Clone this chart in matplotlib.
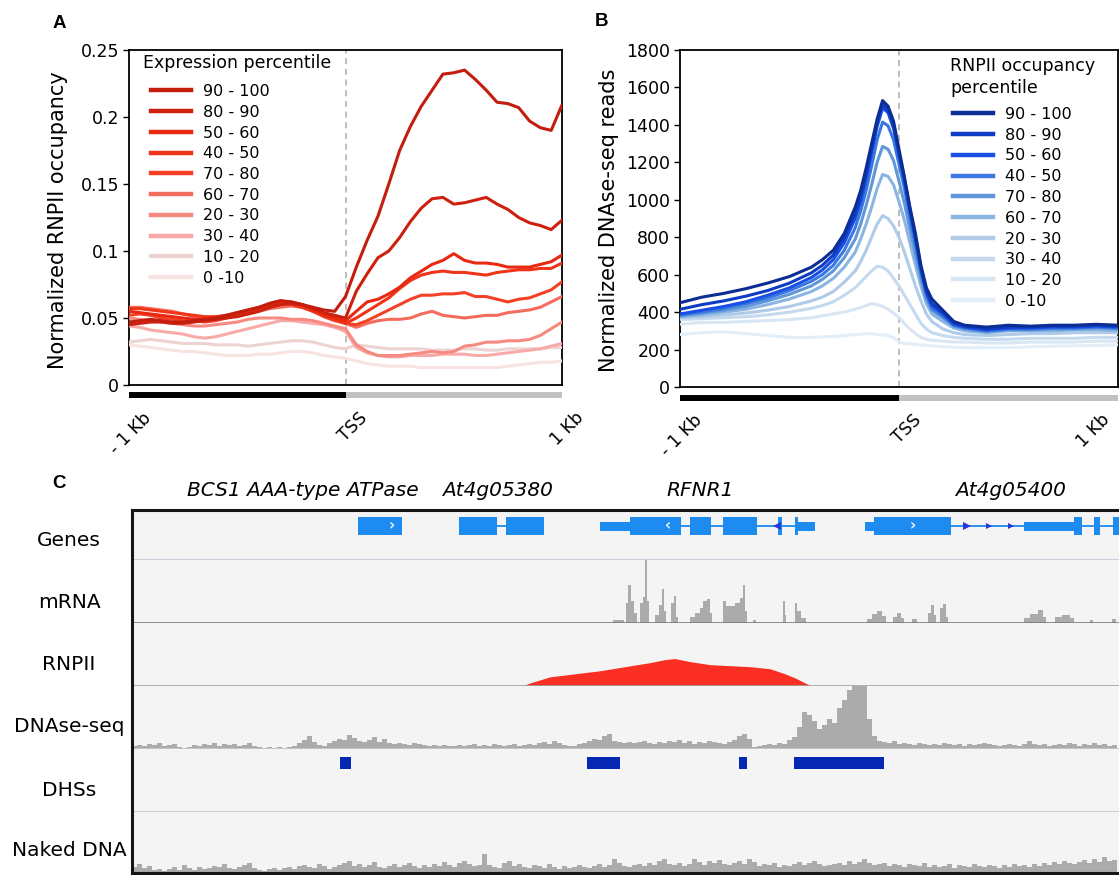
import numpy as np
import matplotlib
matplotlib.use("Agg")
import matplotlib.pyplot as plt
import matplotlib.transforms as mtransforms
from matplotlib.lines import Line2D

plt.rcParams['font.family'] = ['DejaVu Sans']

# ============================ DATA ============================
percentile_groups = ['90 - 100', '80 - 90', '50 - 60', '40 - 50', '70 - 80',
                     '60 - 70', '20 - 30', '30 - 40', '10 - 20', '0 -10']
profile_tick_pos = [-1000, 0, 1000]
profile_tick_labels = ['- 1 Kb', 'TSS', '1 Kb']

# ---- Panel A: RNPII occupancy profiles (position relative to TSS, bp) ----
pos_a = list(range(-1000, 1001, 50))
rnpii_90_100 = [0.047,0.048,0.049,0.048,0.047,0.047,0.048,0.049,0.050,0.052,0.054,0.056,0.058,0.061,0.063,0.062,0.060,0.058,0.056,0.055,0.066,
                0.088,0.108,0.126,0.150,0.175,0.193,0.208,0.220,0.232,0.233,0.235,0.228,0.220,0.211,0.210,0.207,0.197,0.192,0.190,0.209]
rnpii_80_90 = [0.045,0.046,0.047,0.047,0.046,0.046,0.047,0.048,0.049,0.050,0.051,0.053,0.055,0.058,0.060,0.061,0.060,0.057,0.054,0.052,0.050,
               0.070,0.083,0.095,0.100,0.110,0.122,0.132,0.139,0.140,0.135,0.136,0.138,0.140,0.135,0.131,0.125,0.121,0.119,0.116,0.123]
rnpii_50_60 = [0.055,0.054,0.053,0.052,0.051,0.050,0.049,0.049,0.050,0.051,0.053,0.055,0.057,0.059,0.061,0.062,0.060,0.056,0.052,0.050,0.048,
               0.055,0.062,0.064,0.068,0.073,0.080,0.085,0.090,0.093,0.098,0.093,0.091,0.091,0.090,0.088,0.088,0.088,0.090,0.092,0.097]
rnpii_40_50 = [0.057,0.057,0.056,0.055,0.054,0.053,0.052,0.051,0.051,0.052,0.054,0.056,0.058,0.060,0.061,0.060,0.058,0.055,0.052,0.049,0.046,
               0.050,0.055,0.060,0.065,0.072,0.078,0.082,0.084,0.085,0.084,0.084,0.083,0.082,0.084,0.085,0.086,0.086,0.087,0.087,0.091]
rnpii_70_80 = [0.052,0.053,0.052,0.050,0.049,0.048,0.048,0.047,0.048,0.050,0.052,0.054,0.056,0.058,0.060,0.061,0.058,0.055,0.051,0.048,0.046,
               0.045,0.048,0.052,0.056,0.060,0.064,0.067,0.067,0.068,0.068,0.069,0.066,0.066,0.064,0.062,0.064,0.065,0.068,0.071,0.077]
rnpii_60_70 = [0.058,0.058,0.057,0.056,0.055,0.053,0.051,0.050,0.050,0.051,0.052,0.053,0.055,0.057,0.058,0.059,0.058,0.056,0.053,0.050,0.046,
               0.043,0.046,0.048,0.049,0.049,0.050,0.053,0.055,0.052,0.051,0.050,0.051,0.052,0.052,0.054,0.055,0.056,0.058,0.062,0.066]
rnpii_20_30 = [0.050,0.049,0.048,0.047,0.046,0.045,0.044,0.044,0.045,0.046,0.047,0.049,0.050,0.050,0.050,0.049,0.049,0.048,0.046,0.044,0.042,
               0.030,0.025,0.022,0.022,0.022,0.023,0.024,0.025,0.024,0.025,0.029,0.030,0.032,0.032,0.033,0.033,0.034,0.037,0.042,0.047]
rnpii_30_40 = [0.044,0.043,0.041,0.040,0.039,0.038,0.036,0.035,0.036,0.038,0.040,0.042,0.044,0.046,0.048,0.048,0.047,0.046,0.045,0.043,0.040,
               0.028,0.024,0.022,0.021,0.021,0.022,0.022,0.022,0.023,0.023,0.023,0.022,0.022,0.023,0.024,0.025,0.026,0.027,0.029,0.031]
rnpii_10_20 = [0.032,0.033,0.034,0.033,0.032,0.031,0.031,0.031,0.030,0.030,0.030,0.029,0.030,0.031,0.032,0.033,0.033,0.032,0.030,0.028,0.027,
               0.030,0.029,0.028,0.027,0.027,0.027,0.027,0.026,0.026,0.026,0.027,0.027,0.026,0.026,0.027,0.027,0.027,0.027,0.028,0.028]
rnpii_0_10 = [0.030,0.029,0.028,0.027,0.026,0.025,0.025,0.024,0.023,0.022,0.022,0.022,0.023,0.023,0.024,0.025,0.025,0.024,0.022,0.021,0.020,
              0.018,0.016,0.015,0.014,0.014,0.014,0.013,0.013,0.013,0.013,0.013,0.013,0.013,0.013,0.014,0.015,0.016,0.017,0.017,0.018]

# ---- Panel B: DNase-seq profiles ----
pos_b = [-1000,-900,-800,-700,-600,-500,-400,-350,-300,-250,-200,-175,-150,-125,-100,-75,-50,-25,
         0,25,50,75,100,125,150,200,250,300,400,500,600,700,800,900,1000]
dnase_90_100 = [450,480,500,525,555,590,640,680,730,820,960,1050,1170,1300,1430,1530,1500,1420,1270,1120,960,820,650,530,470,410,350,330,320,330,325,330,330,335,330]
dnase_80_90 = [415,440,460,485,515,555,610,650,705,795,925,1015,1135,1270,1410,1510,1480,1400,1250,1110,950,800,640,515,445,400,345,325,310,320,320,325,325,330,325]
dnase_50_60 = [390,410,430,455,490,530,585,625,680,770,900,990,1110,1250,1390,1490,1465,1380,1240,1100,940,790,630,505,435,390,335,320,305,315,315,320,320,325,320]
dnase_40_50 = [385,400,420,445,475,515,565,600,650,730,850,940,1050,1180,1320,1415,1395,1320,1190,1060,900,760,610,490,420,380,330,315,300,310,310,315,315,320,315]
dnase_70_80 = [380,395,410,430,460,495,540,575,620,690,790,870,970,1080,1200,1285,1270,1210,1100,980,840,710,580,470,410,370,325,310,295,305,305,310,310,315,310]
dnase_60_70 = [375,385,400,415,440,470,510,540,580,640,720,790,870,960,1060,1135,1125,1080,990,890,770,650,540,445,390,350,315,300,290,300,300,300,305,305,300]
dnase_20_30 = [370,375,385,395,410,430,460,480,510,560,620,670,730,800,870,915,900,860,800,720,630,540,460,390,350,310,290,280,275,280,285,285,290,290,290]
dnase_30_40 = [360,365,370,375,385,400,420,435,455,490,530,560,590,620,645,640,620,580,540,490,440,390,340,310,290,275,265,260,255,255,260,260,260,265,265]
dnase_10_20 = [335,345,345,350,355,360,370,380,390,400,415,425,435,445,440,430,415,395,370,340,310,285,265,255,250,245,240,240,235,235,240,240,240,245,245]
dnase_0_10 = [280,290,295,285,275,265,265,268,270,275,280,282,285,285,280,278,275,265,240,232,230,228,225,222,220,215,212,210,210,210,215,218,220,222,225]

# ---- Panel C: genome browser (positions in bp from window start) ----
track_names = ['Genes', 'mRNA', 'RNPII', 'DNAse-seq', 'DHSs', 'Naked DNA']
gene_names = ['BCS1 AAA-type ATPase', 'At4g05380', 'RFNR1', 'At4g05400']
gene_label_pos = [1710, 3660, 5680, 8790]
exon_start = [2260, 3270, 3740, 4680, 4980, 5580, 5910, 6460, 6630, 6660, 7330, 7420, 8920, 9420, 9620, 9810]
exon_end   = [2700, 3650, 4120, 4980, 5490, 5790, 6250, 6500, 6660, 6830, 7420, 8190, 9420, 9500, 9680, 9950]
exon_is_utr = [0, 0, 0, 1, 0, 0, 0, 0, 0, 1, 1, 0, 1, 0, 0, 0]
intron_start = [3650, 4680, 7330]
intron_end = [3740, 6830, 9950]
chevron_pos = [2600, 5360, 7810]
chevron_text = ['›', '‹', '›']
strand_arrow_pos = [6450, 8350, 8570, 8790]
strand_arrow_marker = ['<', '>', '>', '>']
strand_arrow_size = [6, 6, 4, 4]

mrna_start = [4810,4940,4960,4990,5020,5080,5110,5130,5150,5230,5270,5300,5320,5390,5420,5440,5580,5630,5680,5710,
              5750,5780,5910,5940,6030,6080,6110,6130,6210,6510,6530,6630,6650,6690,7350,7400,7450,7500,7610,7650,
              7690,7800,7960,7990,8020,8080,8110,8140,8920,8980,9060,9110,9230,9300,9380,9580,9800]
mrna_end = [4920,4960,4990,5020,5050,5110,5130,5150,5170,5270,5300,5320,5340,5420,5440,5460,5630,5680,5710,5750,
            5780,5800,5940,6030,6080,6110,6130,6150,6240,6530,6540,6650,6690,6740,7400,7450,7500,7540,7650,7690,
            7720,7850,7990,8020,8040,8110,8140,8160,8980,9060,9110,9140,9300,9380,9420,9610,9840]
mrna_cov = [3,20,37,22,10,20,26,62,22,8,18,33,12,20,27,6,6,10,15,22,
            24,10,22,17,20,25,37,12,3,22,8,20,12,5,4,9,12,7,6,10,
            5,4,10,18,8,15,19,6,5,9,13,6,6,8,5,3,4]

rnpii_track_pos = [3900,3980,4080,4180,4430,4680,4930,5180,5330,5430,5580,5780,5980,6180,6380,6530,6630,6730,6800]
rnpii_track_cov = [0,3,6,9,12,15,19,23,26,27,24,21,20,19,17,12,8,3,0]

bin_bp = 50
dnase_track_cov = [3,4,3,5,4,6,3,4,5,2, 1,2,4,3,5,4,6,3,5,4, 5,3,4,6,3,2,1,2,1,2,
                   1,2,3,6,9,13,7,4,3,6, 8,10,9,14,11,8,7,9,12,7, 10,6,5,6,5,4,6,5,4,3,
                   4,3,4,3,3,4,3,4,5,3, 4,3,5,4,3,4,5,3,4,5, 4,6,7,5,8,6,4,3,3,5,
                   6,8,10,9,13,15,8,7,6,7, 6,7,8,6,5,7,6,8,7,9, 6,8,5,7,6,8,7,6,5,7,
                   9,13,15,10,2,3,4,5,4,6, 5,9,12,22,36,33,28,20,24,30, 26,40,48,58,62,62,62,30,13,8,
                   7,6,8,5,6,5,4,6,5,4, 5,4,6,5,4,5,3,5,4,5, 6,5,4,3,4,5,4,3,5,8,
                   5,4,5,3,4,5,4,6,5,3, 5,4,6,4,5,3,4]
naked_track_cov = [6,9,5,7,3,4,2,4,6,3, 8,5,3,6,4,5,7,6,9,5, 4,6,8,10,5,3,2,4,5,3,
                   5,6,4,7,8,6,5,9,7,4, 6,8,10,12,7,9,6,8,11,6, 5,7,9,6,8,10,7,5,8,6,
                   9,7,11,8,6,10,12,9,7,8, 19,8,6,5,10,12,7,9,6,5, 8,7,5,9,6,4,7,5,6,8,
                   6,5,7,9,6,8,14,10,7,6, 8,9,7,10,8,12,14,9,8,10, 7,9,14,11,8,12,10,13,9,8,
                   10,12,9,14,11,7,9,8,10,6, 8,7,9,11,8,10,12,9,7,8, 9,10,8,12,9,11,14,10,8,9,
                   10,7,9,8,6,9,8,7,10,6, 8,6,7,9,5,8,7,6,9,7, 6,8,7,5,8,6,9,7,8,6,
                   9,7,10,8,11,9,12,10,9,11, 13,10,14,11,16,12,13]
dhs_start = [2080, 4550, 6070, 6620]
dhs_end = [2190, 4880, 6150, 7520]

# ============================ STYLE / LAYOUT ============================
W, H, DPI = 1119, 875, 100
reds = ['#c21d0d', '#cd200e', '#e92812', '#f03418', '#f44126', '#f46c5e',
        '#f78a80', '#f7aaa8', '#eed3d3', '#f8e3e3']
blues = ['#0b2d94', '#0f3cc4', '#1a4fe6', '#3a78e0', '#5f98d8', '#8ab5e2',
         '#afcbe8', '#c5daef', '#d8e6f4', '#e2eef8']

fig = plt.figure(figsize=(W / DPI, H / DPI), dpi=DPI)


def box(l, t, r, b):
    return [l / W, 1 - b / H, (r - l) / W, (b - t) / H]


def profile_panel(ax, x, series, colors, ylim, yticks, yticklabels,
                  legend_title, title_xy, legend_xy, axes_px_h, label_dx):
    n = len(series)
    for i in range(n - 1, -1, -1):
        ax.plot(x, series[i], color=colors[i], lw=2.2, zorder=3 + (n - i) * 0.1,
                solid_joinstyle='round')
    ax.axvline(0, color='#ababab', lw=1.1, ls=(0, (4, 3)), zorder=1)
    ax.set_xlim(-1000, 1000)
    ax.set_ylim(*ylim)
    ax.set_yticks(yticks)
    ax.set_yticklabels(yticklabels)
    ax.tick_params(axis='y', direction='out', length=4, width=1, labelsize=12.5, pad=3)
    ax.tick_params(axis='x', length=0, labelbottom=False)
    for s in ax.spines.values():
        s.set_linewidth(1.3)
    # region bars under the axis
    tr = mtransforms.blended_transform_factory(ax.transData, ax.transAxes)
    yb = -10.5 / axes_px_h
    ax.plot([-1000, 0], [yb, yb], transform=tr, color='black', lw=4.3,
            solid_capstyle='butt', clip_on=False)
    ax.plot([0, 1000], [yb, yb], transform=tr, color='#c2c2c2', lw=4.3,
            solid_capstyle='butt', clip_on=False)
    # rotated tick labels
    base = ax.get_xaxis_transform()
    for p, lab, dx in zip(profile_tick_pos, profile_tick_labels, label_dx):
        off = mtransforms.ScaledTranslation(dx / DPI, -24 / DPI, fig.dpi_scale_trans)
        ax.text(p, 0, lab, transform=base + off, rotation=45, ha='right', va='top',
                rotation_mode='anchor', fontsize=12.5)
    ax.text(title_xy[0], title_xy[1], legend_title, transform=ax.transAxes,
            ha='left', va='center', fontsize=12.5, linespacing=1.32)
    handles = [Line2D([0], [0], color=c, lw=3.2) for c in colors]
    leg = ax.legend(handles, percentile_groups, loc='upper left',
                    bbox_to_anchor=legend_xy, frameon=False, fontsize=11.5,
                    handlelength=2.5, handletextpad=0.75,
                    labelspacing=0.36, borderpad=0, borderaxespad=0)
    return leg


# ---- Panel A ----
axA = fig.add_axes(box(129, 50, 562, 385))
profile_panel(axA, pos_a,
              [rnpii_90_100, rnpii_80_90, rnpii_50_60, rnpii_40_50, rnpii_70_80,
               rnpii_60_70, rnpii_20_30, rnpii_30_40, rnpii_10_20, rnpii_0_10],
              reds, (0, 0.25), [0, 0.05, 0.1, 0.15, 0.2, 0.25],
              ['0', '0.05', '0.1', '0.15', '0.2', '0.25'],
              'Expression percentile', ((143 - 129) / 433, (385 - 63) / 335),
              ((151 - 129) / 433, (385 - 84) / 335), 335, [13, 13, 13])
fig.text(58 / W, 1 - 220 / H, 'Normalized RNPII occupancy', rotation=90,
         ha='center', va='center', fontsize=15)

# ---- Panel B ----
axB = fig.add_axes(box(680, 50, 1118, 387))
profile_panel(axB, pos_b,
              [dnase_90_100, dnase_80_90, dnase_50_60, dnase_40_50, dnase_70_80,
               dnase_60_70, dnase_20_30, dnase_30_40, dnase_10_20, dnase_0_10],
              blues, (0, 1800), list(range(0, 1801, 200)),
              [str(v) for v in range(0, 1801, 200)],
              'RNPII occupancy\npercentile', ((950 - 680) / 438, (387 - 77) / 337),
              ((953 - 680) / 438, (387 - 107) / 337), 337, [13, 13, -17])
fig.text(609 / W, 1 - 220 / H, 'Normalized DNAse-seq reads', rotation=90,
         ha='center', va='center', fontsize=15)

# panel letters
for lab, (px, py) in zip(['A', 'B', 'C'], [(59, 23), (602, 22), (59, 484)]):
    fig.text(px / W, 1 - py / H, lab, ha='center', va='center', fontsize=13.5,
             fontweight='bold', family=['Liberation Sans', 'DejaVu Sans'])

# ---- Panel C ----
edges = [510, 560, 623, 686, 749, 812, 873]
sep_colors = ['#c6c6d6', '#7a7a7a', '#a2a2a2', '#c8c8d0', '#c8c8d8', None]
label_y = [541, 603, 665, 726, 790, 850]
xmax_bp = (1119 - 132) * 10
track_axes = []
for i in range(6):
    ax = fig.add_axes(box(132, edges[i], 1119, edges[i + 1]))
    ax.set_facecolor('#f4f4f4')
    ax.set_xlim(0, xmax_bp)
    ax.set_xticks([])
    ax.set_yticks([])
    for k, s in ax.spines.items():
        s.set_visible(False)
    if sep_colors[i]:
        ax.spines['bottom'].set_visible(True)
        ax.spines['bottom'].set_color(sep_colors[i])
        ax.spines['bottom'].set_linewidth(1.2)
    track_axes.append(ax)
    fig.text(69 / W, 1 - label_y[i] / H, track_names[i], ha='center', va='center',
             fontsize=14.5)

gene_blue = '#1d8bef'
axg, axm, axr, axd, axh, axn = track_axes
# genes
axg.set_ylim(0, 50)
axg.hlines([34] * len(intron_start), intron_start, intron_end, color=gene_blue, lw=1.3)
for s, e, u in zip(exon_start, exon_end, exon_is_utr):
    if u:
        axg.bar(s, 9, width=e - s, bottom=29.5, align='edge', color=gene_blue, lw=0)
    else:
        axg.bar(s, 18, width=e - s, bottom=25, align='edge', color=gene_blue, lw=0)
for p, t in zip(chevron_pos, chevron_text):
    axg.text(p, 34, t, color='#e8f2ff', ha='center', va='center', fontsize=11,
             fontweight='bold')
for p, m, sz in zip(strand_arrow_pos, strand_arrow_marker, strand_arrow_size):
    axg.plot([p], [34], marker=m, color='#2a36d8', ms=sz, mew=0)
trg = mtransforms.blended_transform_factory(axg.transData, fig.transFigure)
for name, p in zip(gene_names, gene_label_pos):
    axg.text(p, 1 - 490 / H, name, transform=trg, ha='center', va='center',
             fontsize=14.5, style='italic', clip_on=False)

# mRNA
axm.set_ylim(0, 62)
axm.bar(mrna_start, mrna_cov, width=np.array(mrna_end) - np.array(mrna_start),
        align='edge', color='#ababab', lw=0)
# RNPII
axr.set_ylim(0, 62)
axr.fill_between(rnpii_track_pos, rnpii_track_cov, color='#fb2e24', lw=0)
# DNase-seq
axd.set_ylim(0, 62)
bins = np.arange(len(dnase_track_cov)) * bin_bp
axd.bar(bins, dnase_track_cov, width=bin_bp, align='edge', color='#ababab', lw=0)
# DHSs
axh.set_ylim(0, 63)
axh.bar(dhs_start, 12, width=np.array(dhs_end) - np.array(dhs_start), bottom=43,
        align='edge', color='#0626b4', lw=0)
# Naked DNA
axn.set_ylim(0, 61)
bins_n = np.arange(len(naked_track_cov)) * bin_bp
axn.bar(bins_n, naked_track_cov, width=bin_bp, align='edge', color='#ababab', lw=0)

# frame of panel C
frame = fig.add_axes(box(132, 510, 1119, 873))
frame.set_facecolor('none')
frame.set_xticks([])
frame.set_yticks([])
frame.spines['right'].set_visible(False)
for k in ['left', 'top', 'bottom']:
    frame.spines[k].set_linewidth(2.2)
    frame.spines[k].set_color('#151515')

fig.savefig('out.png', dpi=DPI)
